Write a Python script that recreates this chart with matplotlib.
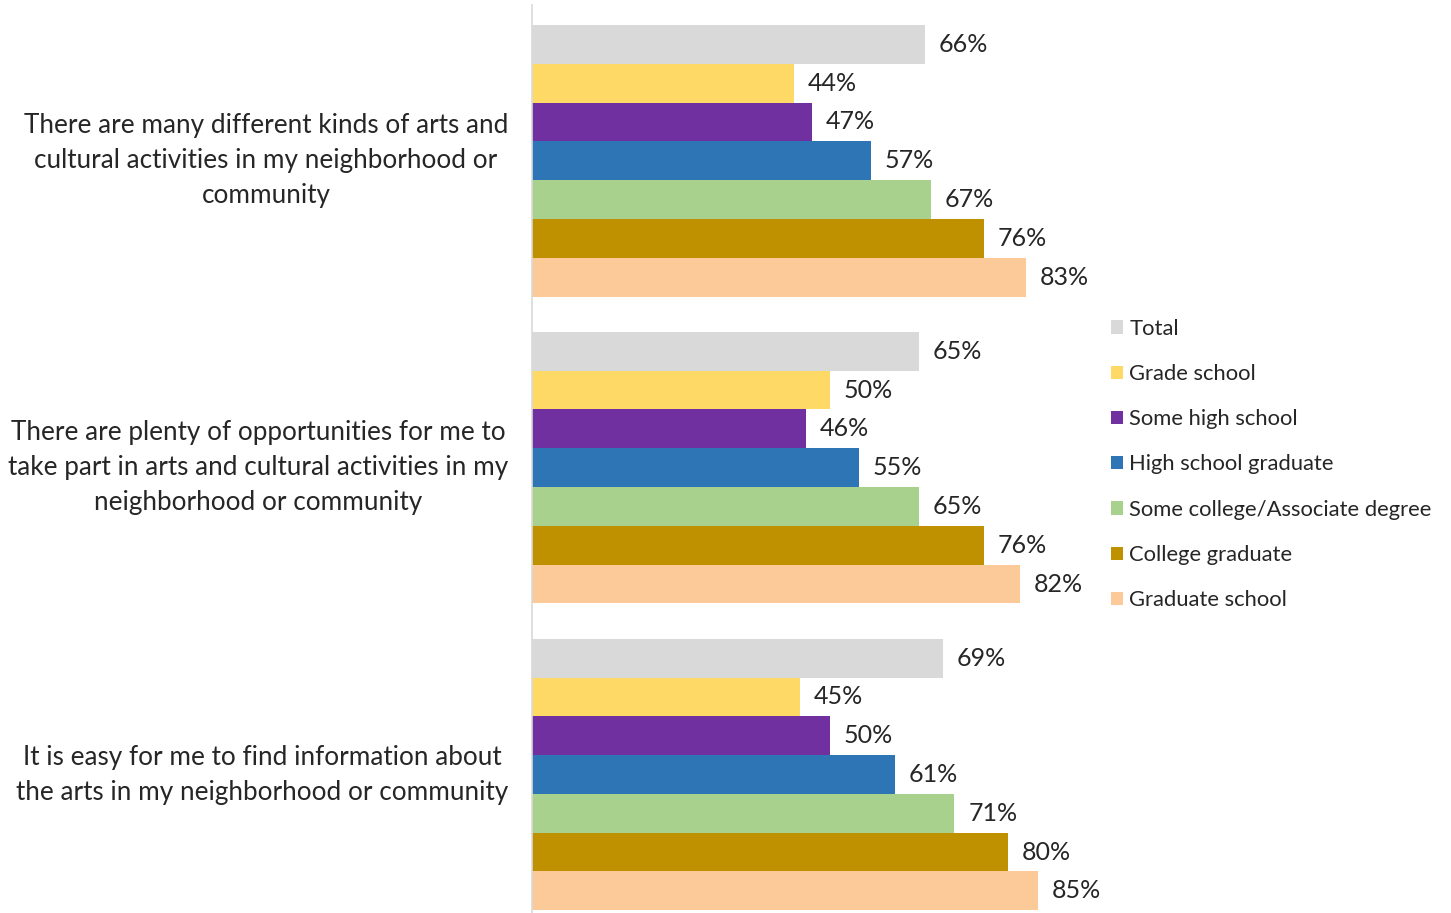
import matplotlib
matplotlib.use("Agg")
import numpy as np
from matplotlib import pyplot as plt
from matplotlib.patches import Patch

plt.rcParams['font.family'] = ['Lato', 'DejaVu Sans']

statements = [
    "There are many different kinds of arts and\ncultural activities in my neighborhood or\ncommunity",
    "There are plenty of opportunities for me to\ntake part in arts and cultural activities in my\nneighborhood or community",
    "It is easy for me to find information about\nthe arts in my neighborhood or community",
]
groups = ["Total", "Grade school", "Some high school", "High school graduate",
          "Some college/Associate degree", "College graduate", "Graduate school"]
colors = ["#D9D9D9", "#FFD966", "#7030A0", "#2E75B6", "#A9D18E", "#BF9000", "#FCCA98"]

values = [
    [66, 44, 47, 57, 67, 76, 83],
    [65, 50, 46, 55, 65, 76, 82],
    [69, 45, 50, 61, 71, 80, 85],
]

W, H = 1451, 913
fig = plt.figure(figsize=(W / 100, H / 100), dpi=100)
ax = fig.add_axes([532 / W, 0, 595 / W, 908 / H])

step = 7.91  # category pitch in bar heights
for g, vals in enumerate(values):
    for i, v in enumerate(vals):
        y = g * step + i + 0.5
        ax.barh(y, v, height=1.0, color=colors[i], edgecolor='none')
        ax.text(v + 2.3, y, f"{v}%", va='center', ha='left', fontsize=18, color='#262626')
    ax.text(-4.0, g * step + 3.5, statements[g], ha='right', va='center',
            multialignment='center', fontsize=18.8, color='#262626', linespacing=1.5)

ax.set_xlim(0, 100)
ax.set_ylim(22.89, -0.515)
ax.set_xticks([])
ax.set_yticks([])
for s in ['top', 'right', 'bottom']:
    ax.spines[s].set_visible(False)
ax.spines['left'].set_color('#D9D9D9')
ax.spines['left'].set_linewidth(1.2)

handles = [Patch(facecolor=c, edgecolor='none') for c in colors]
leg = fig.legend(handles, groups, loc='upper left', bbox_to_anchor=(1091 / W, 1 - 299 / H),
                 frameon=False, fontsize=15.8, handlelength=0.55, handleheight=0.55,
                 handletextpad=0.3, labelspacing=1.15, labelcolor='#262626')

fig.savefig("out.png", dpi=100, facecolor='white')
